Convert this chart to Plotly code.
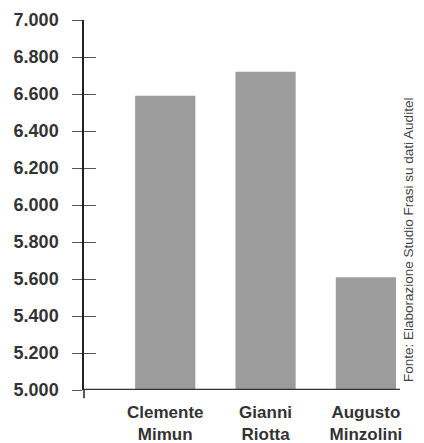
import plotly.graph_objects as go

categories = ["Clemente<br>Mimun", "Gianni<br>Riotta", "Augusto<br>Minzolini"]
values = [6590, 6720, 5610]
tick_values = [5000, 5200, 5400, 5600, 5800, 6000, 6200, 6400, 6600, 6800, 7000]
tick_labels = ["5.000", "5.200", "5.400", "5.600", "5.800", "6.000",
               "6.200", "6.400", "6.600", "6.800", "7.000"]
source = "Fonte: Elaborazione Studio Frasi su dati Auditel"

xpos = list(range(len(categories)))

fig = go.Figure()
fig.add_trace(go.Bar(x=xpos, y=values, marker=dict(color="#9c9c9c", line=dict(width=0)),
                     width=0.6, showlegend=False))
# invisible trace to activate the second (tick) axis
fig.add_trace(go.Scatter(x=[xpos[0]], y=[values[0]], yaxis="y2", mode="markers",
                         marker=dict(opacity=0), showlegend=False, hoverinfo="skip"))

fig.update_layout(
    width=416, height=435,
    margin=dict(l=76, r=24, t=12, b=53),
    paper_bgcolor="white", plot_bgcolor="white",
    font=dict(family="Liberation Sans, Arial, sans-serif", color="#333333"),
    xaxis=dict(
        range=[-0.81, 2.34], tickmode="array", tickvals=xpos, ticktext=categories,
        showgrid=False, zeroline=False, ticks="", ticklabelstandoff=10, automargin=False,
        tickfont=dict(size=17, family="Liberation Sans, Arial", color="#333333", weight="bold"),
        showline=False,
    ),
    yaxis=dict(
        range=[5000, 7000], tickmode="array", tickvals=tick_values, ticktext=tick_labels,
        showgrid=False, zeroline=False, ticks="outside", ticklen=10, tickwidth=1.2,
        tickcolor="#555555", showline=True, linecolor="#222222", linewidth=1.5,
        ticklabelstandoff=10, automargin=False,
        tickfont=dict(size=18, family="Liberation Sans, Arial", color="#333333", weight="bold"),
    ),
    yaxis2=dict(
        range=[5000, 7000], overlaying="y", side="left", tickmode="array",
        tickvals=tick_values, ticks="inside", ticklen=12, tickwidth=1.2,
        tickcolor="#555555", showticklabels=False, showgrid=False, zeroline=False,
        showline=False, automargin=False,
    ),
    bargap=0.4,
)

# axis line extension below the baseline
fig.add_shape(type="line", xref="paper", yref="paper", x0=0, x1=0, y0=-0.022, y1=0,
              line=dict(color="#222222", width=1.5))
# baseline
fig.add_shape(type="line", xref="paper", yref="y", x0=0, x1=1, y0=5000, y1=5000,
              line=dict(color="#333333", width=2.5))

fig.add_annotation(text=source, xref="paper", yref="paper", x=1.055, y=0.405,
                   textangle=-90, showarrow=False,
                   font=dict(size=13.5, color="#444444", family="Liberation Sans, Arial"))

fig.write_html("out.html")
